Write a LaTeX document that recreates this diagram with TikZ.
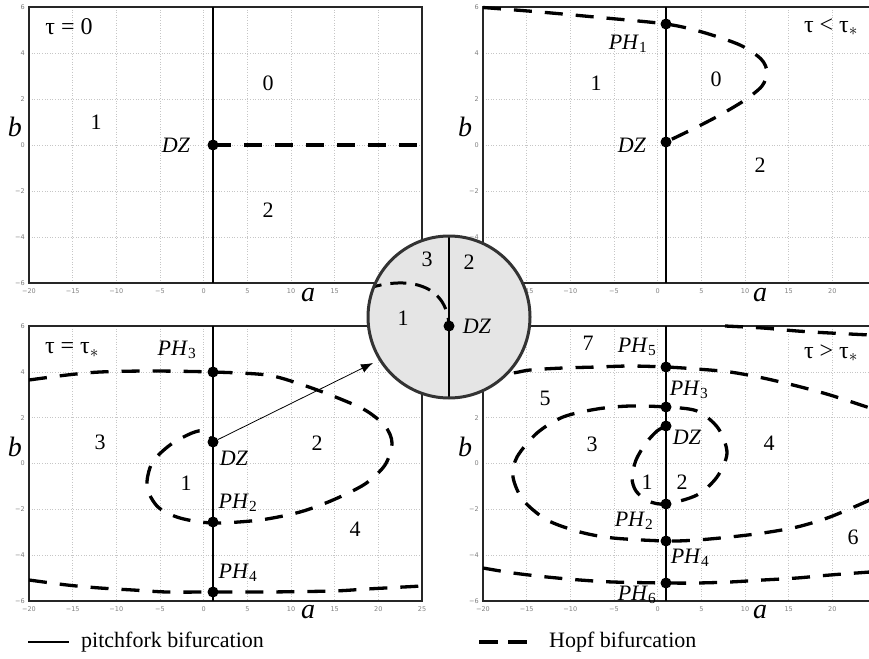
\documentclass[tikz,border=0pt]{standalone}
\usepackage{fontspec}
\setmainfont{Liberation Serif}
\newfontfamily\tickfont{DejaVu Sans}
\usetikzlibrary{arrows.meta}
\tikzset{
 gridl/.style={gray!45, dotted, line width=0.6pt},
 frame/.style={line width=1.6pt, black!85},
 pitch/.style={line width=2.4pt},
 hopf/.style={line width=3.3pt, dash pattern=on 18pt off 13pt},
 dot/.style={circle, fill, inner sep=0pt, minimum size=11pt},
 ticklab/.style={font=\tickfont\fontsize{6.5}{7}\selectfont, text=gray, inner sep=0pt},
 lab/.style={font=\fontsize{22}{24}\selectfont, inner sep=0pt},
 axlab/.style={font=\fontsize{28}{30}\selectfont\itshape, inner sep=0pt},
 taulab/.style={font=\fontsize{24}{26}\selectfont, inner sep=0pt},
 legtext/.style={font=\fontsize{22}{24}\selectfont, inner sep=0pt, anchor=west},
}
% #1 L, #2 T, #3 H, #4 a-tick list (index/value), #5 b-tick list
\newcommand\mypanel[5]{%
 \begin{scope}[shift={(#1,#2)}]
  \foreach \k in {1,...,8} \draw[gridl] ({\k*43.667},0) -- ({\k*43.667},#3);
  \foreach \k in {1,...,5} \draw[gridl] (0,{\k*#3/6}) -- (393,{\k*#3/6});
  \foreach \k/\v in {#4}
     \node[ticklab] at ({\k*43.667},{#3+8}) {\v};
  \foreach \k/\v in {#5}
     \node[ticklab, anchor=east] at (-4,{\k*#3/6}) {\v};
  \draw[frame] (0,0) rectangle (393,#3);
 \end{scope}}
\newcommand\PHl[1]{\textit{PH}\textsubscript{#1}}
\begin{document}
\begin{tikzpicture}[x=1pt,y=-1pt]
\useasboundingbox (0,0) rectangle (869,658);
\clip (0,0) rectangle (869,658);
% panels
\mypanel{29}{7}{276}{0/−20,1/−15,2/−10,3/−5,4/0,5/5,6/10,7/15}{0/6,1/4,2/2,3/0,4/−2,5/−4,6/−6}
\mypanel{483}{7}{276}{1/−15,2/−10,3/−5,4/0,5/5,6/10,7/15,8/20}{0/6,1/4,2/2,3/0,4/−2,5/−4}
\mypanel{29}{326}{275}{0/−20,1/−15,2/−10,3/−5,4/0,5/5,6/10,7/15,8/20,9/25}{0/6,1/4,2/2,3/0,4/−2,5/−4,6/−6}
\mypanel{483}{326}{275}{0/−20,1/−15,2/−10,3/−5,4/0,5/5,6/10,7/15,8/20}{2/2,3/0,4/−2,5/−4,6/−6}
% pitchfork lines
\draw[pitch] (213,7) -- (213,283);
\draw[pitch] (666,7) -- (666,283);
\draw[pitch] (213,326) -- (213,601);
\draw[pitch] (666,326) -- (666,601);
% ---- panel 1
\coordinate (p1r) at (422,145);
\node[dot] (dz1) at (213,145) {};
\draw[hopf] (dz1.center) -- (p1r);
\node[taulab] (t1) at (69,27) {τ = 0};
\node[lab] (r10) at (268,83) {0};
\node[lab] (r11) at (96,122) {1};
\node[lab] (r12) at (268,210) {2};
\node[lab] (l1dz) at (176,145) {\textit{DZ}};
\node[axlab] (b1) at (15,127) {b};
\node[axlab] (a1) at (308,295) {a};
% ---- panel 2
\draw[hopf] plot[smooth] coordinates {(483,7.5) (540,12) (600,17.5) (666,24) (702,32) (740,45) (761,59) (767,72) (762,86) (745,100) (720,115) (695,128) (666,142)};
\node[dot] (ph1) at (666,24) {};
\node[dot] (dz2) at (666,142) {};
\node[taulab] (t2) at (831,27) {τ < τ$_{\ast}$};
\node[lab] (l2ph) at (628,44) {\PHl{1}};
\node[lab] (r21) at (596,83) {1};
\node[lab] (r20) at (716,79) {0};
\node[lab] (r22) at (760,165) {2};
\node[lab] (l2dz) at (632,145) {\textit{DZ}};
\node[axlab] (b2) at (465,127) {b};
\node[axlab] (a2) at (760,295) {a};
% ---- panel 3
\draw[hopf] plot[smooth] coordinates {(29,380) (67,375) (100,372) (150,371) (213,372) (267,375) (300,384) (333,396) (365,410) (385,426) (392,443) (385,465) (365,484) (333,500) (300,512) (260,520) (213,523) (180,518) (158,507) (147,487) (152,463) (170,445) (192,433) (205,431) (213,442)};
\draw[hopf] plot[smooth] coordinates {(29,580) (67,585) (100,588) (133,590) (167,592) (213,592) (267,592) (333,591) (367,589) (422,586)};
\node[dot] (ph3a) at (213,372) {};
\node[dot] (dz3) at (213,442) {};
\node[dot] (ph2a) at (213,522) {};
\node[dot] (ph4a) at (213,592) {};
\node[taulab] (t3) at (72,350) {τ = τ$_{\ast}$};
\node[lab] (l3ph3) at (177,350) {\PHl{3}};
\node[lab] (l3dz) at (234,458) {\textit{DZ}};
\node[lab] (l3ph2) at (238,503) {\PHl{2}};
\node[lab] (l3ph4) at (238,573) {\PHl{4}};
\node[lab] (r33) at (100,442) {3};
\node[lab] (r32) at (317,443) {2};
\node[lab] (r31) at (186,483) {1};
\node[lab] (r34) at (355,529) {4};
\node[axlab] (b3) at (15,447) {b};
\node[axlab] (a3) at (308,612) {a};
% ---- panel 4
\draw[hopf] plot[smooth] coordinates {(725,326) (763,328) (797,331) (830,333) (870,335)};
\draw[hopf] plot[smooth] coordinates {(483,376) (513,373) (530,370) (563,368) (597,367) (630,366) (666,367) (697,369) (730,372) (763,378) (797,386) (830,395) (870,408)};
\draw[hopf] plot[smooth] coordinates {(870,500) (830,517) (797,527) (763,533) (730,537) (697,540) (666,541) (613,538) (580,532) (547,520) (523,500) (513,477) (517,457) (537,433) (563,417) (597,409) (630,406) (666,407) (697,411) (718,428) (727,453) (717,477) (697,495) (666,504) (648,501) (636,491) (632,478) (636,460) (646,443) (657,431) (666,426)};
\draw[hopf] plot[smooth] coordinates {(483,568) (513,573) (547,577) (580,580) (613,582) (666,583) (697,583) (730,582) (763,580) (797,578) (830,575) (870,572)};
\node[dot] (ph5b) at (666,367) {};
\node[dot] (ph3b) at (666,407) {};
\node[dot] (dz4) at (666,426) {};
\node[dot] (ph2b) at (666,504) {};
\node[dot] (ph4b) at (666,541) {};
\node[dot] (ph6b) at (666,583) {};
\node[taulab] (t4) at (831,353) {τ > τ$_{\ast}$};
\node[lab] (r47) at (588,343) {7};
\node[lab] (l4ph5) at (637,347) {\PHl{5}};
\node[lab] (l4ph3) at (689,390) {\PHl{3}};
\node[lab] (l4dz) at (687,437) {\textit{DZ}};
\node[lab] (r45) at (545,398) {5};
\node[lab] (r43) at (592,444) {3};
\node[lab] (r44) at (769,443) {4};
\node[lab] (r41) at (647,482) {1};
\node[lab] (r42) at (682,482) {2};
\node[lab] (l4ph2) at (634,521) {\PHl{2}};
\node[lab] (r46) at (853,537) {6};
\node[lab] (l4ph4) at (690,558) {\PHl{4}};
\node[lab] (l4ph6) at (637,595) {\PHl{6}};
\node[axlab] (b4) at (465,447) {b};
\node[axlab] (a4) at (760,612) {a};
% ---- arrow to inset
\coordinate (arrend) at (373,363);
\draw[-{Latex[length=12pt,width=9pt]}, line width=0.8pt] (dz3) -- (arrend);
% ---- inset
\node[circle, fill=gray!20, minimum size=162pt, inner sep=0pt] (inset) at (449,317) {};
\begin{scope}
 \clip (449,317) circle (81);
 \draw[pitch] (449,236) -- (449,398);
 \draw[hopf, line width=3pt, dash pattern=on 16pt off 9pt] (366,289) .. controls (405,276) and (447,282) .. (449,326);
\end{scope}
\draw[line width=3pt, black!80] (inset.center) circle (81);
\node[dot] (dzi) at (449,326) {};
\node[lab] (ri3) at (427,259) {3};
\node[lab] (ri2) at (469,262) {2};
\node[lab] (ri1) at (403,318) {1};
\node[lab] (lidz) at (477,326) {\textit{DZ}};
% ---- legend
\coordinate (ls1) at (28,642); \coordinate (ls2) at (69,642);
\draw[pitch] (ls1) -- (ls2);
\node[legtext] (lt1) at (81,642) {pitchfork bifurcation};
\coordinate (lh1) at (479,642); \coordinate (lh2) at (527,642);
\draw[hopf, dash pattern=on 19pt off 10pt] (lh1) -- (lh2);
\node[legtext] (lt2) at (549,642) {Hopf bifurcation};
\end{tikzpicture}
\end{document}
